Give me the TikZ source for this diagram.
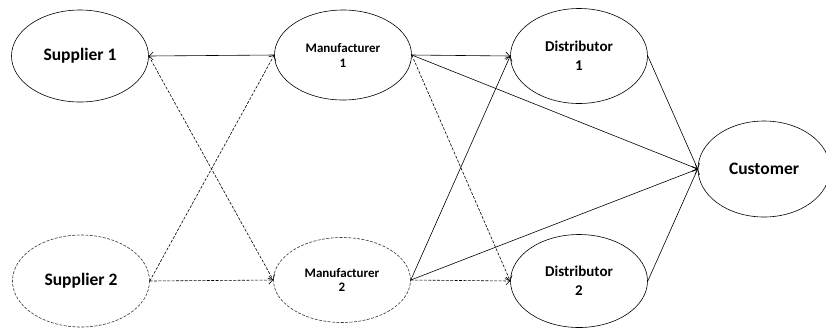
\documentclass[tikz,border=0pt]{standalone}
\usepackage{fontspec}
\setmainfont{Carlito}
\usetikzlibrary{
	arrows.meta,
	shapes.geometric
}
\colorlet{LGray}{black!80}

\begin{document}
\begin{tikzpicture}[x=1pt, y=-1pt, >={Straight Barb[length=4pt,width=8pt]},
	line cap=round, line join=round,
	party/.style={ellipse, draw, line width=0.6pt, inner sep=0pt, align=center,
		minimum width=137pt, minimum height=92pt, font=\bfseries},
	maybe/.style={party, draw=LGray, dash pattern=on 2.6pt off 1.8pt},
	flow/.style={->, line width=0.6pt},
	altflow/.style={->, line width=0.6pt, dash pattern=on 2.6pt off 1.8pt}]
	
	\useasboundingbox (0,0) rectangle (826,333);
	
	% -- Suppliers -------------------------------------------------
	\node[party, font=\bfseries\fontsize{17.5}{19}\selectfont] (sup1) at (80,56) {Supplier 1};
	\node[maybe, font=\bfseries\fontsize{17.5}{19}\selectfont] (sup2) at (81,281) {Supplier 2};
	
	% -- Manufacturers ---------------------------------------------
	\node[party, minimum height=90pt, font=\bfseries\fontsize{13}{15}\selectfont] (man1) at (343,55) {Manufacturer\\1};
	\node[maybe, minimum height=85pt, font=\bfseries\fontsize{13}{14}\selectfont] (man2) at (342,280) {Manufacturer\\2};
	
	% -- Distributors ----------------------------------------------
	\node[party, minimum height=95pt, font=\bfseries\fontsize{15}{19}\selectfont] (dist1) at (579,56) {Distributor\\1};
	\node[party, minimum height=93pt, font=\bfseries\fontsize{15}{19}\selectfont] (dist2) at (579,281) {Distributor\\2};
	
	% -- Customer --------------------------------------------------
	\node[party, minimum width=132pt, minimum height=96pt, font=\bfseries\fontsize{17.5}{19}\selectfont] (cust) at (764,169) {Customer};
	
	% -- Supply links ----------------------------------------------
	\draw[flow] (man1.west) -- (sup1.east);
	\draw[altflow] (sup1.east) -- (man2.west);
	\draw[altflow] (sup2.east) -- (man1.west);
	\draw[altflow] (sup2.east) -- (man2.west);
	
	% -- Distribution links ----------------------------------------
	\draw[flow] (man1.east) -- (dist1.west);
	\draw[flow] (man1.east) -- (cust.west);
	\draw[altflow] (man1.east) -- (dist2.west);
	\draw[flow] (man2.east) -- (dist1.west);
	\draw[flow] (man2.east) -- (cust.west);
	\draw[altflow] (man2.east) -- (dist2.west);
	
	% -- Delivery links --------------------------------------------
	\draw[flow] (dist1.east) -- (cust.west);
	\draw[flow] (dist2.east) -- (cust.west);
	
\end{tikzpicture}
\end{document}
